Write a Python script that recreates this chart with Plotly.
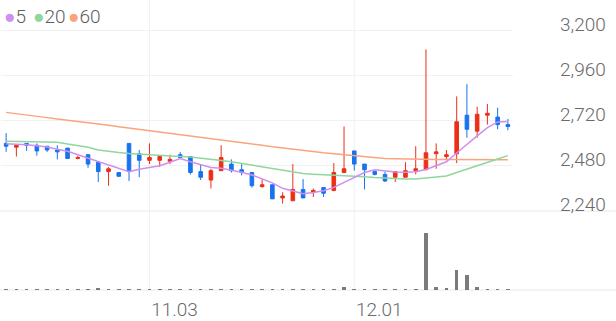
import plotly.graph_objects as go

# ---- data ----
dates = [
    "2025-10-14", "2025-10-15", "2025-10-16", "2025-10-17", "2025-10-20", "2025-10-21", "2025-10-22",
    "2025-10-23", "2025-10-24", "2025-10-27", "2025-10-28", "2025-10-29", "2025-10-30", "2025-10-31",
    "2025-11-03", "2025-11-04", "2025-11-05", "2025-11-06", "2025-11-07", "2025-11-10", "2025-11-11",
    "2025-11-12", "2025-11-13", "2025-11-14", "2025-11-17", "2025-11-18", "2025-11-19", "2025-11-20",
    "2025-11-21", "2025-11-24", "2025-11-25", "2025-11-26", "2025-11-27", "2025-11-28",
    "2025-12-01", "2025-12-02", "2025-12-03", "2025-12-04", "2025-12-05", "2025-12-08", "2025-12-09",
    "2025-12-10", "2025-12-11", "2025-12-12", "2025-12-15", "2025-12-16", "2025-12-17", "2025-12-18",
    "2025-12-19", "2025-12-22",
]
opens = [2600, 2580, 2600, 2590, 2585, 2565, 2575, 2520, 2540, 2500,
         2450, 2445, 2600, 2545, 2510, 2510, 2505, 2540, 2530, 2450,
         2405, 2455, 2490, 2460, 2445, 2370, 2380, 2310, 2295, 2355,
         2340, 2365, 2350, 2445, 2560, 2490, 2450, 2435, 2420, 2420,
         2455, 2460, 2545, 2530, 2545, 2750, 2665, 2750, 2740, 2700]
highs = [2655, 2590, 2600, 2600, 2585, 2590, 2575, 2535, 2540, 2500,
         2475, 2445, 2600, 2565, 2600, 2530, 2540, 2555, 2530, 2490,
         2465, 2590, 2515, 2490, 2445, 2410, 2380, 2340, 2490, 2410,
         2360, 2365, 2495, 2690, 2560, 2490, 2455, 2450, 2450, 2500,
         2585, 3100, 2600, 2565, 2850, 2915, 2795, 2810, 2790, 2730]
lows = [2555, 2530, 2560, 2535, 2555, 2515, 2520, 2515, 2470, 2395,
        2375, 2425, 2400, 2420, 2490, 2475, 2490, 2520, 2435, 2405,
        2360, 2455, 2445, 2430, 2365, 2365, 2305, 2280, 2295, 2310,
        2315, 2315, 2345, 2445, 2455, 2355, 2430, 2395, 2395, 2420,
        2435, 2460, 2465, 2510, 2495, 2630, 2630, 2700, 2675, 2670]
closes = [2585, 2590, 2590, 2560, 2565, 2555, 2520, 2525, 2490, 2450,
          2465, 2425, 2450, 2510, 2525, 2530, 2515, 2525, 2445, 2420,
          2455, 2525, 2455, 2445, 2375, 2380, 2305, 2320, 2355, 2310,
          2350, 2335, 2445, 2465, 2490, 2460, 2435, 2400, 2450, 2455,
          2465, 2550, 2555, 2540, 2715, 2675, 2755, 2760, 2700, 2690]
volumes = [80, 60, 50, 60, 50, 80, 70, 60, 80, 200,
           100, 60, 90, 60, 70, 50, 50, 70, 80, 80,
           90, 90, 70, 60, 80, 60, 70, 60, 90, 80,
           60, 70, 150, 270, 120, 100, 80, 60, 70, 80,
           90, 5700, 270, 170, 2000, 1530, 330, 100, 100, 60]
ma5 = [2598, 2596, 2593, 2587, 2581, 2569, 2558, 2540, 2522, 2501,
       2482, 2465, 2450, 2462, 2472, 2481, 2500, 2519, 2502, 2487,
       2472, 2468, 2459, 2446, 2432, 2411, 2390, 2361, 2345, 2332,
       2339, 2348, 2366, 2392, 2421, 2445, 2460, 2453, 2448, 2446,
       2449, 2461, 2481, 2502, 2549, 2596, 2640, 2684, 2714, 2716]
ma20 = [2611, 2610, 2609, 2608, 2607, 2606, 2597, 2589, 2579, 2565,
        2557, 2551, 2546, 2542, 2538, 2535, 2532, 2530, 2527, 2522,
        2515, 2509, 2502, 2493, 2485, 2476, 2467, 2458, 2450, 2440,
        2436, 2431, 2430, 2428, 2426, 2422, 2418, 2415, 2413, 2411,
        2411, 2417, 2422, 2427, 2445, 2462, 2480, 2499, 2517, 2535]
ma60 = [2765, 2757, 2750, 2744, 2737, 2730, 2724, 2716, 2710, 2703,
        2696, 2689, 2682, 2676, 2670, 2664, 2657, 2649, 2642, 2635,
        2627, 2619, 2612, 2605, 2597, 2590, 2582, 2575, 2568, 2561,
        2555, 2550, 2545, 2540, 2535, 2529, 2524, 2520, 2519, 2517,
        2516, 2515, 2514, 2514, 2514, 2513, 2513, 2513, 2513, 2513]
price_ticks = [2240, 2480, 2720, 2960, 3200]
price_tick_labels = ["2,240", "2,480", "2,720", "2,960", "3,200"]
date_ticks = ["2025-11-03", "2025-12-01"]
date_tick_labels = ["11.03", "12.01"]
legend_names = ["5", "20", "60"]

# ---- styles ----
UP = "#ec2f17"
DOWN = "#1773ee"
C_MA5 = "#d08ff0"
C_MA20 = "#8fd79c"
C_MA60 = "#fba47c"
TXT = "#6a6a6a"
GRID = "#f1f1f1"
FONT = "Roboto"
FS = 19

fig = go.Figure()
for vals, col in ((ma60, C_MA60), (ma20, C_MA20), (ma5, C_MA5)):
    fig.add_trace(go.Scatter(x=dates, y=vals, mode="lines",
                             line=dict(color=col, width=1.5),
                             hoverinfo="skip", xaxis="x", yaxis="y"))

fig.add_trace(go.Candlestick(
    x=dates, open=opens, high=highs, low=lows, close=closes,
    increasing=dict(line=dict(color=UP, width=1), fillcolor=UP),
    decreasing=dict(line=dict(color=DOWN, width=1), fillcolor=DOWN),
    xaxis="x", yaxis="y", hoverinfo="skip"))

fig.add_trace(go.Bar(x=dates, y=volumes, xaxis="x", yaxis="y2",
                     marker=dict(color="#7b7b7b", line=dict(width=0)),
                     width=0.35, hoverinfo="skip"))

price_bottom = 80 / 294.0
vol_top = 72 / 294.0

shapes = []
for d in date_ticks:
    shapes.append(dict(type="line", xref="x", yref="paper", x0=d, x1=d, y0=0, y1=1,
                       line=dict(color=GRID, width=1), layer="below"))
for yy in (price_bottom, 0):
    shapes.append(dict(type="line", xref="paper", yref="paper", x0=-0.01, x1=1.22,
                       y0=yy, y1=yy, line=dict(color="#e9e9e9", width=1), layer="below"))

annotations = []
for name, col, px in zip(legend_names, (C_MA5, C_MA20, C_MA60), (1, 30, 65)):
    annotations.append(dict(
        xref="paper", yref="paper", x=0, y=1, xanchor="left", yanchor="top",
        xshift=px, yshift=-3, showarrow=False,
        text=f'<span style="color:{col}">●</span>{name}',
        font=dict(family=FONT, size=FS, color="#5e5e5e", weight=300)))

fig.update_layout(
    width=616, height=321,
    margin=dict(l=1, r=103, t=0, b=27),
    paper_bgcolor="white", plot_bgcolor="white",
    showlegend=False, boxgap=0.5, bargap=0, hovermode=False,
    shapes=shapes, annotations=annotations,
    xaxis=dict(type="category", categoryorder="array", categoryarray=dates,
               range=[-0.5, len(dates) - 0.5], anchor="y2",
               tickvals=date_ticks, ticktext=date_tick_labels,
               showgrid=False, showline=False, zeroline=False, ticks="",
               rangeslider=dict(visible=False),
               tickfont=dict(family=FONT, size=FS, color=TXT, weight=300),
               ticklabelshift=25, ticklabelstandoff=6),
    yaxis=dict(domain=[price_bottom, 1], range=[2240, 3362.6], side="right",
               tickvals=price_ticks, ticktext=price_tick_labels,
               showgrid=True, gridcolor=GRID, gridwidth=1,
               zeroline=False, showline=False, ticks="",
               ticklabelposition="outside top", ticklabelstandoff=46,
               ticklabelshift=7,
               tickfont=dict(family=FONT, size=FS, color=TXT, weight=300)),
    yaxis2=dict(domain=[0, vol_top], range=[0, 7140], anchor="x",
                showticklabels=False, showgrid=False, zeroline=False, showline=False),
)

fig.write_html("out.html")
